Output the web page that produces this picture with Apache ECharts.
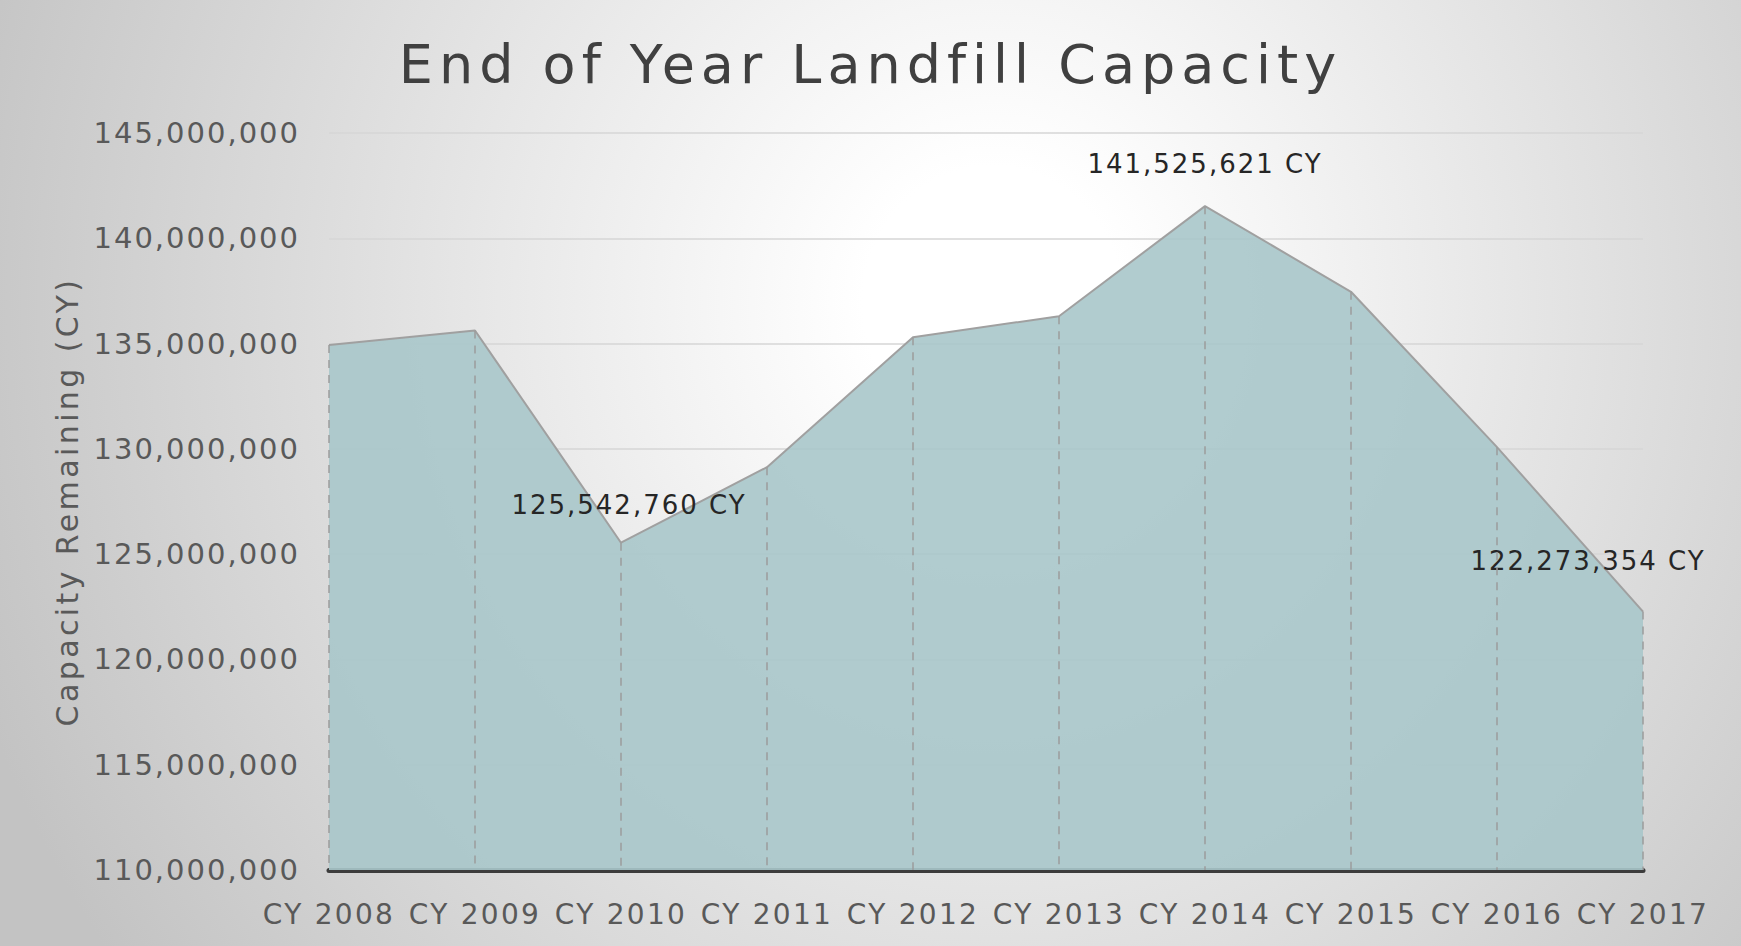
<!DOCTYPE html>
<html>
<head>
<meta charset="utf-8">
<title>End of Year Landfill Capacity</title>
<script src="https://cdn.jsdelivr.net/npm/echarts@6/dist/echarts.min.js"></script>
<style>
  html, body { margin: 0; padding: 0; }
  #main {
    width: 1741px; height: 946px;
    background: radial-gradient(ellipse 62% 120% at 57% 32%, #ffffff 12%, #c3c3c3 100%);
  }
  /* the original uses a wide, letter-spaced face */
  #main svg text[style*="54px"] { letter-spacing: 6px; }
  #main svg text[style*="29px"] { letter-spacing: 2px; }
  #main svg text[style*="28px"] { letter-spacing: 2.3px; }
  #main svg text[style*="30px"] { letter-spacing: 3.4px; }
  #main svg text[style*="26px"] { letter-spacing: 2px; }
</style>
</head>
<body>
<div id="main"></div>
<script type="text/javascript">
  // chart data
  var years = ['CY 2008', 'CY 2009', 'CY 2010', 'CY 2011', 'CY 2012', 'CY 2013', 'CY 2014', 'CY 2015', 'CY 2016', 'CY 2017'];
  var capacity = [134930000, 135620000, 125542760, 129130000, 135300000, 136300000, 141525621, 137460000, 130080000, 122273354];
  var labelled = [2, 6, 9];           // points that carry a value label
  var labelShift = { 2: [8, 5], 6: [0, 0], 9: [-55, -8] };
  var yMin = 110000000, yMax = 145000000, yStep = 5000000;

  var chart = echarts.init(document.getElementById('main'), null, { renderer: 'svg' });
  var axisFont = 'DejaVu Sans';

  function fmt(v) { return v.toLocaleString('en-US'); }

  var seriesData = capacity.map(function (v, i) {
    var item = { value: v };
    if (labelled.indexOf(i) >= 0) {
      item.label = { show: true, offset: labelShift[i] };
    }
    return item;
  });

  // drop lines from each point down to the axis
  var dropLines = capacity.map(function (v, i) {
    return [{ coord: [years[i], v] }, { coord: [years[i], yMin] }];
  });

  var option = {
    backgroundColor: 'transparent',
    animation: false,
    title: {
      text: 'End of Year Landfill Capacity',
      left: 'center',
      top: 32,
      textStyle: { fontFamily: axisFont, fontSize: 54, fontWeight: 'normal', color: '#404040' }
    },
    grid: { left: 329, right: 98, top: 133, bottom: 76 },
    xAxis: {
      type: 'category',
      data: years,
      boundaryGap: false,
      axisLine: { lineStyle: { color: '#3c3c3c', width: 5 } },
      axisTick: { show: false },
      axisLabel: { fontFamily: axisFont, fontSize: 28, color: '#595959', margin: 30, interval: 0, hideOverlap: false },
      splitLine: { show: false }
    },
    yAxis: {
      type: 'value',
      min: yMin, max: yMax, interval: yStep,
      name: 'Capacity Remaining (CY)',
      nameLocation: 'middle',
      nameGap: 247,
      nameTextStyle: { fontFamily: axisFont, fontSize: 30, color: '#595959' },
      axisLine: { show: false },
      axisTick: { show: false },
      axisLabel: { fontFamily: axisFont, fontSize: 29, color: '#595959', margin: 29, formatter: fmt },
      splitLine: { lineStyle: { color: '#d6d6d6', width: 1.5 } }
    },
    series: [{
      name: 'Capacity',
      type: 'line',
      data: seriesData,
      symbol: 'circle',
      symbolSize: 1,
      showSymbol: true,
      itemStyle: { color: 'rgba(0,0,0,0)' },
      lineStyle: { color: '#a0a0a0', width: 2 },
      areaStyle: { color: '#a8c6ca', opacity: 0.9 },
      label: {
        show: false,
        position: 'top',
        distance: 29,
        fontFamily: axisFont,
        fontSize: 26,
        color: '#262626',
        formatter: function (p) { return fmt(p.value) + ' CY'; }
      },
      markLine: {
        silent: true,
        symbol: 'none',
        label: { show: false },
        lineStyle: { color: '#9c9c9c', type: [8, 7], width: 1.5 },
        data: dropLines
      }
    }]
  };

  chart.setOption(option);
</script>
</body>
</html>
